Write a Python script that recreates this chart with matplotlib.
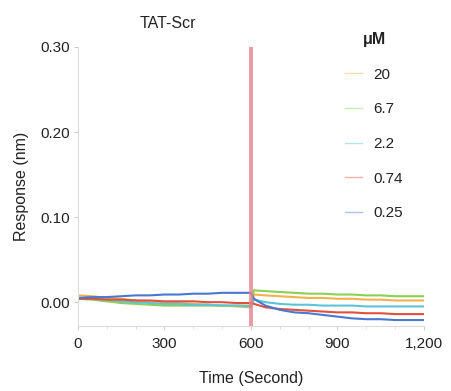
import matplotlib
matplotlib.use("Agg")
import matplotlib.pyplot as plt
from matplotlib.lines import Line2D
from matplotlib.ticker import MultipleLocator, FuncFormatter

plt.rcParams['font.family'] = ['Liberation Sans', 'DejaVu Sans']

# ---- data ----
concentrations = ["20", "6.7", "2.2", "0.74", "0.25"]
colors = ["#f2b24a", "#8ccf55", "#5cc4d6", "#e0503e", "#4a78d0"]

assoc_time = [0, 50, 100, 150, 200, 250, 300, 350, 400, 450, 500, 550, 600]
dissoc_time = [600, 610, 650, 700, 750, 800, 850, 900, 950, 1000, 1050, 1100, 1150, 1200]

assoc_20 = [0.008, 0.007, 0.005, 0.004, 0.002, 0.001, 0.000, -0.001, -0.002, -0.003, -0.004, -0.005, -0.006]
assoc_6_7 = [0.004, 0.003, 0.001, -0.001, -0.002, -0.003, -0.004, -0.004, -0.004, -0.004, -0.004, -0.004, -0.004]
assoc_2_2 = [0.005, 0.004, 0.003, 0.001, 0.000, -0.001, -0.002, -0.002, -0.003, -0.003, -0.004, -0.004, -0.005]
assoc_0_74 = [0.004, 0.004, 0.003, 0.003, 0.002, 0.002, 0.001, 0.001, 0.001, 0.000, 0.000, -0.001, -0.001]
assoc_0_25 = [0.005, 0.006, 0.006, 0.007, 0.008, 0.008, 0.009, 0.009, 0.010, 0.010, 0.011, 0.011, 0.011]

dissoc_20 = [-0.006, 0.009, 0.008, 0.007, 0.006, 0.005, 0.005, 0.004, 0.004, 0.003, 0.003, 0.002, 0.002, 0.002]
dissoc_6_7 = [-0.004, 0.014, 0.013, 0.012, 0.011, 0.010, 0.010, 0.009, 0.009, 0.008, 0.008, 0.007, 0.007, 0.007]
dissoc_2_2 = [-0.005, 0.003, 0.000, -0.002, -0.003, -0.003, -0.004, -0.004, -0.004, -0.005, -0.005, -0.005, -0.005, -0.005]
dissoc_0_74 = [-0.001, -0.002, -0.006, -0.008, -0.009, -0.010, -0.011, -0.012, -0.012, -0.013, -0.013, -0.014, -0.014, -0.014]
dissoc_0_25 = [0.011, 0.004, -0.004, -0.009, -0.012, -0.013, -0.015, -0.017, -0.019, -0.020, -0.020, -0.021, -0.021, -0.021]

assoc = [assoc_20, assoc_6_7, assoc_2_2, assoc_0_74, assoc_0_25]
dissoc = [dissoc_20, dissoc_6_7, dissoc_2_2, dissoc_0_74, dissoc_0_25]

x_ticks = [0, 300, 600, 900, 1200]
y_ticks = [0.00, 0.10, 0.20, 0.30]

# ---- figure ----
W, H = 452, 391
fig = plt.figure(figsize=(W / 100, H / 100), dpi=100)
ax = fig.add_axes([78 / W, 1 - 326 / H, (424 - 78) / W, (326 - 47) / H])

for c, a, d in zip(colors, assoc, dissoc):
    ax.plot(assoc_time + dissoc_time, a + d, color=c, lw=1.5, zorder=2)

ax.axvline(600, color="#ea7f8b", lw=2.8, alpha=0.8, zorder=3)

ax.set_xlim(0, 1200)
ax.set_ylim(-0.028, 0.30)
ax.set_xticks(x_ticks)
ax.xaxis.set_minor_locator(MultipleLocator(100))
ax.set_yticks(y_ticks)
ax.xaxis.set_major_formatter(FuncFormatter(lambda v, p: f"{int(v):,}"))
ax.yaxis.set_major_formatter(FuncFormatter(lambda v, p: f"{v:.2f}"))

for s in ["top", "right"]:
    ax.spines[s].set_visible(False)
for s in ["left", "bottom"]:
    ax.spines[s].set_color("#dcdcdc")
    ax.spines[s].set_linewidth(0.8)
ax.tick_params(axis="both", which="major", length=3, width=0.8, color="#d0d0d0",
               labelsize=11, labelcolor="#222222", pad=3)
ax.tick_params(axis="x", which="minor", length=2, width=0.6, color="#d8d8d8")
ax.tick_params(axis="x", which="major", pad=5)

ax.set_xlabel("Time (Second)", fontsize=11.5, color="#222222", labelpad=14)
ax.set_ylabel("Response (nm)", fontsize=11.5, color="#222222", labelpad=8)

fig.text(168 / W, 1 - 23 / H, "TAT-Scr", fontsize=11.5, color="#222222",
         ha="center", va="center")

handles = [Line2D([0], [0], color=c, lw=1.0, alpha=0.45) for c in colors]
leg = ax.legend(handles, concentrations, title="μM", loc="upper left",
                bbox_to_anchor=(336 / W, 1 - 23 / H), bbox_transform=fig.transFigure,
                frameon=False, fontsize=11, title_fontsize=11.5, borderpad=0.1,
                handlelength=1.1, handletextpad=0.75, labelspacing=1.35)
leg.get_title().set_fontweight("bold")
leg.get_title().set_color("#222222")
for t in leg.get_texts():
    t.set_color("#222222")
leg._legend_box.align = "center"

fig.savefig("out.png", dpi=100)
